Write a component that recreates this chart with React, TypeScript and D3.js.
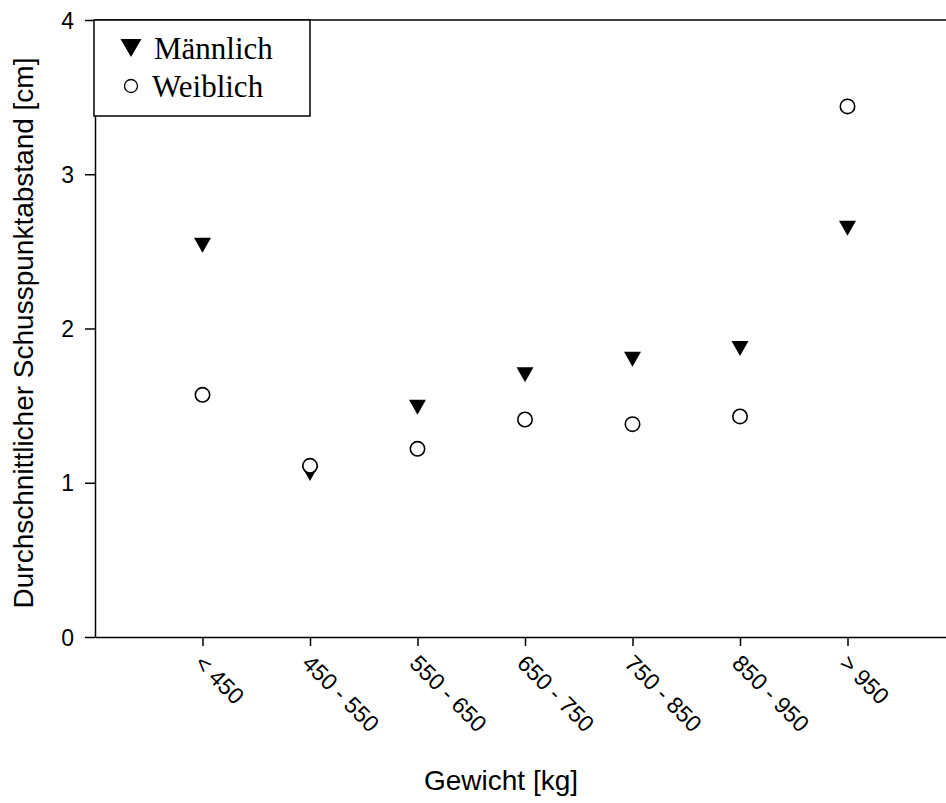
import React, { useEffect, useRef } from "react";
import * as d3 from "d3";

const categories = ["< 450", "450 - 550", "550 - 650", "650 - 750", "750 - 850", "850 - 950", "> 950"];
const maleValues = [2.54, 1.06, 1.49, 1.70, 1.80, 1.87, 2.65];
const femaleValues = [1.57, 1.11, 1.22, 1.41, 1.38, 1.43, 3.44];
const yTicks = [0, 1, 2, 3, 4];

const App = () => {
    const ref = useRef<SVGSVGElement>(null);

    useEffect(() => {
        const svg = d3.select(ref.current);
        svg.selectAll("*").remove();

        const left = 95, top = 20, bottom = 637, right = 955;

        const x = d3.scaleLinear().domain([0, categories.length + 1]).range([left, right]);
        const y = d3.scaleLinear().domain([0, 4]).range([bottom, top]);

        const sans = "Liberation Sans, Arial, sans-serif";
        const serif = "Liberation Serif, Times New Roman, serif";

        // frame top line
        svg.append("line").attr("x1", left).attr("x2", right).attr("y1", top).attr("y2", top)
            .attr("stroke", "#000").attr("stroke-width", 1.5);

        // Y axis
        const yAxis = svg.append("g").attr("transform", `translate(${left},0)`)
            .call(d3.axisLeft(y).tickValues(yTicks).tickSize(10).tickSizeOuter(0).tickFormat(d3.format("d")));
        yAxis.select(".domain").attr("stroke-width", 1.5);
        yAxis.selectAll(".tick line").attr("stroke-width", 1.5);
        yAxis.selectAll("text").attr("font-family", sans).attr("font-size", 23).attr("fill", "#000")
            .attr("x", -21).attr("dy", "0.35em");

        // X axis
        const xAxis = svg.append("g").attr("transform", `translate(0,${bottom})`)
            .call(d3.axisBottom(x).tickValues(d3.range(1, categories.length + 1)).tickSize(9).tickSizeOuter(0)
                .tickFormat((d: any) => categories[d - 1]));
        xAxis.select(".domain").attr("stroke-width", 1.5);
        xAxis.selectAll(".tick line").attr("stroke-width", 1.5);
        xAxis.selectAll("text").attr("font-family", sans).attr("font-size", 23).attr("fill", "#000")
            .attr("text-anchor", "start").attr("x", 0).attr("y", 0).attr("dy", "0.35em")
            .attr("transform", "translate(-4,22) rotate(45)");

        // Männlich triangles
        const tri = (cx: number, cy: number, w: number, h: number) =>
            `M${cx - w / 2},${cy - h / 2}L${cx + w / 2},${cy - h / 2}L${cx},${cy + h / 2}Z`;
        svg.append("g").selectAll("path").data(maleValues).join("path")
            .attr("d", (d, i) => tri(x(i + 1), y(d), 17, 15))
            .attr("fill", "#000");

        // Weiblich circles
        svg.append("g").selectAll("circle").data(femaleValues).join("circle")
            .attr("cx", (d, i) => x(i + 1)).attr("cy", d => y(d)).attr("r", 7.2)
            .attr("fill", "#fff").attr("stroke", "#000").attr("stroke-width", 1.6);

        // Legend
        const lg = svg.append("g");
        lg.append("rect").attr("x", 94).attr("y", 20).attr("width", 216).attr("height", 96)
            .attr("fill", "#fff").attr("stroke", "#000").attr("stroke-width", 1.5);
        lg.append("path").attr("d", tri(131, 48, 21, 18)).attr("fill", "#000");
        lg.append("circle").attr("cx", 131).attr("cy", 86).attr("r", 6.5)
            .attr("fill", "#fff").attr("stroke", "#000").attr("stroke-width", 1.3);
        lg.append("text").attr("x", 154).attr("y", 59).text("Männlich")
            .attr("font-family", serif).attr("font-size", 31);
        lg.append("text").attr("x", 152).attr("y", 97).text("Weiblich")
            .attr("font-family", serif).attr("font-size", 31);

        // X axis label
        svg.append("text").attr("x", 501).attr("y", 790).attr("text-anchor", "middle")
            .attr("font-family", sans).attr("font-size", 28).text("Gewicht [kg]");

        // Y axis label
        svg.append("text").attr("transform", `translate(33,333) rotate(-90)`)
            .attr("text-anchor", "middle").attr("font-family", sans).attr("font-size", 28)
            .text("Durchschnittlicher Schusspunktabstand [cm]");
    }, []);

    return (
        <svg ref={ref} width={946} height={803} style={{ position: "absolute", left: 0, top: 0 }}></svg>
    );
};

export default App;
